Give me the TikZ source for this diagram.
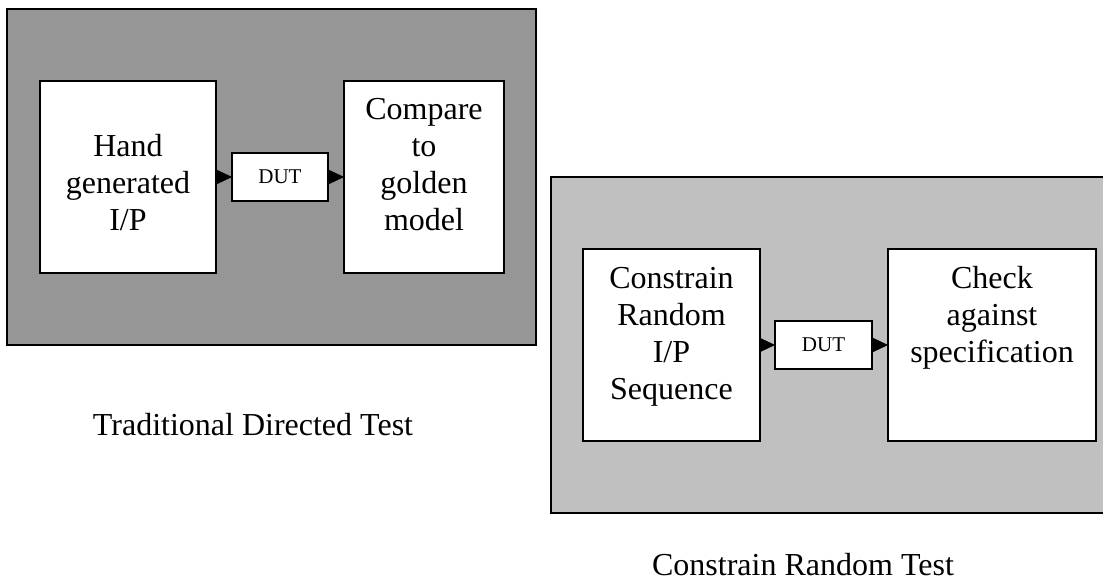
\documentclass[tikz,border=0pt]{standalone}
\usepackage{fontspec}
\setmainfont{Liberation Serif}
\usetikzlibrary{arrows.meta}

% multi-line box text, top aligned: first baseline 39pt below the top, 37pt line pitch
\newcommand\blocklines[3]{%
  \parbox[c][#2][t]{#1}{\centering\fontsize{32pt}{37pt}\selectfont
    \vspace*{17pt}\rule{0pt}{22pt}#3}}

\tikzset{
  panel/.style={line width=1.2pt, draw=black},
  block/.style={draw=black, fill=white, line width=1.2pt, inner sep=0pt, outer sep=0pt},
  dutbox/.style={draw=black, fill=white, line width=1.2pt, inner sep=0pt, outer sep=0pt,
    minimum width=96pt, minimum height=48pt, font=\fontsize{21pt}{24pt}\selectfont},
  feed/.style={line width=1pt, -{Triangle[length=15pt, width=14pt]}},
  caption/.style={anchor=base, inner sep=0pt, font=\fontsize{32pt}{37pt}\selectfont}
}
\definecolor{darkpanel}{RGB}{150,150,150}
\definecolor{lightpanel}{RGB}{192,192,192}

\begin{document}
\begin{tikzpicture}[x=1pt, y=-1pt]
  \useasboundingbox (0,0) rectangle (1103,580);

  % directed test panel
  \filldraw[panel, fill=darkpanel] (7,9) rectangle (536,345);
  % constrained random panel, running off the right edge
  \fill[lightpanel] (551,177) rectangle (1103,513);
  \draw[panel] (1103,177) -- (551,177) -- (551,513) -- (1103,513);

  % directed flow
  \node[block] (hand) at (128,177) {\blocklines{176pt}{192pt}{\\Hand\\generated\\I/P}};
  \node[dutbox] (dutA) at (280,177) {DUT};
  \node[block] (golden) at (424,177) {\blocklines{160pt}{192pt}{Compare\\to\\golden\\model}};
  \draw[feed] (hand) -- (dutA);
  \draw[feed] (dutA) -- (golden);

  % random flow
  \node[block] (crand) at (671.5,345) {\blocklines{177pt}{192pt}{Constrain\\Random\\I/P\\Sequence}};
  \node[dutbox, minimum width=97pt] (dutB) at (823.5,345) {DUT};
  \node[block] (spec) at (992,345) {\blocklines{208pt}{192pt}{Check\\against\\specification}};
  \draw[feed] (crand) -- (dutB);
  \draw[feed] (dutB) -- (spec);

  % captions
  \node[caption] (capA) at (253,435) {Traditional Directed Test};
  \node[caption] (capB) at (803,575) {Constrain Random Test};
\end{tikzpicture}
\end{document}
